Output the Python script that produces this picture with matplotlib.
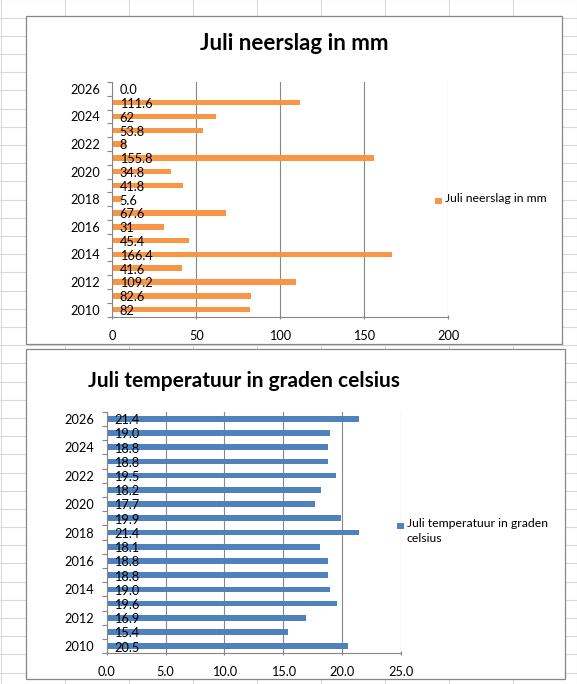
import numpy as np
import matplotlib
matplotlib.use("Agg")
import matplotlib.pyplot as plt
from matplotlib.patches import Rectangle
from matplotlib.lines import Line2D

# %% data
years = list(range(2010, 2027))
rain = [82, 82.6, 109.2, 41.6, 166.4, 45.4, 31, 67.6, 5.6, 41.8, 34.8, 155.8, 8, 53.8, 62, 111.6, 0.0]
rain_labels = ['82', '82.6', '109.2', '41.6', '166.4', '45.4', '31', '67.6', '5.6',
               '41.8', '34.8', '155.8', '8', '53.8', '62', '111.6', '0.0']
temp = [20.5, 15.4, 16.9, 19.6, 19.0, 18.8, 18.8, 18.1, 21.4, 19.9, 17.7, 18.2, 19.5, 18.8, 18.8, 19.0, 21.4]
temp_labels = ['%.1f' % v for v in temp]

rain_ticks = [0, 50, 100, 150, 200]
temp_ticks = [0, 5, 10, 15, 20, 25]

ORANGE = '#F79646'
BLUE = '#4F81BD'
AXGRAY = '#868686'
CELLGRAY = '#D9D9D9'

plt.rcParams['font.family'] = ['Lato', 'DejaVu Sans']

W, H = 577, 684
fig = plt.figure(figsize=(W / 100, H / 100), dpi=100)


def fx(x):
    return x / W


def fy(y):
    return 1 - y / H


# %% spreadsheet cells behind the charts
for x in np.arange(0.5, W + 1, 64):
    fig.add_artist(Line2D([fx(x)] * 2, [0, 1], color=CELLGRAY, lw=0.8, zorder=-3))
for y in np.arange(-0.7, H + 1, 18.2):
    fig.add_artist(Line2D([0, 1], [fy(y)] * 2, color=CELLGRAY, lw=0.8, zorder=-3))


def chart_box(x0, y0, x1, y1):
    fig.add_artist(Rectangle((fx(x0), fy(y1)), (x1 - x0) / W, (y1 - y0) / H,
                             transform=fig.transFigure, facecolor='white',
                             edgecolor=AXGRAY, lw=0.9, zorder=-1))


def legend_entry(x, y, color, text):
    s = 6.5
    fig.add_artist(Rectangle((fx(x), fy(y + s / 2)), s / W, s / H,
                             transform=fig.transFigure, facecolor=color,
                             edgecolor='none', zorder=3))
    fig.text(fx(x + s + 3), fy(y - 8), text, ha='left', va='top',
             fontsize=8.8, linespacing=1.4)


def style_axes(ax, xticks, fmt):
    ax.set_facecolor('none')
    ax.set_ylim(2009.5, 2026.5)
    ax.set_xlim(xticks[0], xticks[-1])
    ax.set_xticks(xticks)
    ax.set_xticklabels([fmt % t for t in xticks])
    ax.xaxis.grid(True, color=AXGRAY, lw=0.8)
    ax.set_axisbelow(True)
    for side in ['top', 'right']:
        ax.spines[side].set_visible(False)
    for side in ['left', 'bottom']:
        ax.spines[side].set_color(AXGRAY)
        ax.spines[side].set_linewidth(0.8)
    ax.set_yticks(years[::2])
    ax.set_yticklabels([str(y) for y in years[::2]])
    ax.set_yticks(np.arange(2009.5, 2027, 1), minor=True)
    ax.tick_params(axis='y', which='major', length=0, pad=9, labelsize=9.2)
    ax.tick_params(axis='y', which='minor', length=3.5, color=AXGRAY, width=0.8)
    ax.tick_params(axis='x', length=3, color=AXGRAY, width=0.8, pad=8, labelsize=9.2,
                   direction='inout')


def data_labels(ax, labels):
    for y, lbl in zip(years, labels):
        ax.annotate(lbl, xy=(0, y), xytext=(5.2, -1.0), textcoords='offset points',
                    ha='left', va='center', fontsize=9.2, color='black')


# %% chart 1: rainfall
chart_box(25.5, 16, 562, 344)
ax1 = fig.add_axes([fx(112.3), fy(316.5), (448.3 - 112.3) / W, (316.5 - 82) / H])
ax1.barh(years, rain, height=0.4, color=ORANGE)
style_axes(ax1, rain_ticks, '%d')
data_labels(ax1, rain_labels)
fig.text(fx(294), fy(43), 'Juli neerslag in mm', ha='center', va='center',
         fontsize=16, fontweight='bold')
legend_entry(435, 201, ORANGE, 'Juli neerslag in mm')

# %% chart 2: temperature
chart_box(26, 349, 565, 679)
ax2 = fig.add_axes([fx(106.7), fy(653.3), (401 - 106.7) / W, (653.3 - 411.7) / H])
ax2.barh(years, temp, height=0.4, color=BLUE)
style_axes(ax2, temp_ticks, '%.1f')
data_labels(ax2, temp_labels)
fig.text(fx(243.5), fy(381), 'Juli temperatuur in graden celsius', ha='center', va='center',
         fontsize=15, fontweight='bold')
legend_entry(397, 526, BLUE, 'Juli temperatuur in graden\ncelsius')

fig.savefig('out.png', dpi=100)
